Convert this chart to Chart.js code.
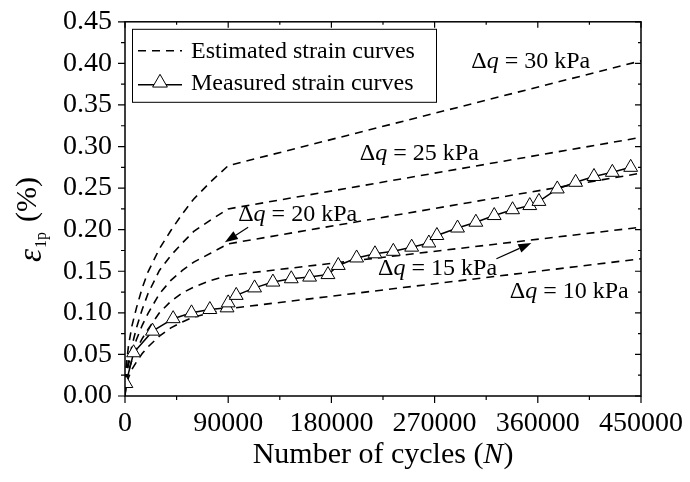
<!DOCTYPE html>
<html>
<head>
<meta charset="utf-8">
<script src="https://cdn.jsdelivr.net/npm/chart.js@4.4.1/dist/chart.umd.min.js"></script>
<style>
  html, body { margin: 0; padding: 0; background: #fff; }
  #wrap { width: 690px; height: 482px; }
</style>
</head>
<body>
<div id="wrap"><canvas id="chart" width="690" height="482"></canvas></div>
<script>
// --- data ---
// estimated curves all share the same cycle values
const estCycles = [0, 1000, 3000, 6000, 10000, 15000, 20000, 30000, 40000, 50000, 60000, 75000, 90000, 450000];
const est30 = [0, 0.035, 0.060, 0.084, 0.106, 0.130, 0.149, 0.177, 0.199, 0.219, 0.237, 0.258, 0.277, 0.403];
const est25 = [0, 0.025, 0.042, 0.060, 0.082, 0.104, 0.123, 0.151, 0.169, 0.184, 0.198, 0.212, 0.225, 0.311];
const est20 = [0, 0.022, 0.038, 0.052, 0.068, 0.085, 0.099, 0.123, 0.139, 0.151, 0.161, 0.172, 0.183, 0.268];
const est15 = [0, 0.018, 0.030, 0.043, 0.056, 0.069, 0.080, 0.100, 0.114, 0.124, 0.131, 0.139, 0.145, 0.203];
const est10 = [0, 0.013, 0.022, 0.032, 0.041, 0.051, 0.059, 0.072, 0.082, 0.089, 0.095, 0.100, 0.105, 0.165];

// measured strain (triangles)
const measCycles = [800, 7500, 24000, 42000, 58000, 74000, 89000, 90000, 97000, 113000, 129000, 145000,
  161000, 177000, 186000, 202000, 218000, 234000, 250000, 265000, 272000, 290000, 306000, 322000,
  338000, 353000, 361000, 377000, 393000, 409000, 425000, 441000];
const measStrain = [0.015, 0.052, 0.078, 0.093, 0.100, 0.104, 0.106, 0.112, 0.121, 0.130, 0.137, 0.141,
  0.143, 0.146, 0.157, 0.166, 0.171, 0.174, 0.179, 0.184, 0.193, 0.202, 0.209, 0.217,
  0.224, 0.229, 0.234, 0.249, 0.257, 0.264, 0.269, 0.275];

const xTicks = [0, 90000, 180000, 270000, 360000, 450000];
const yTicks = [0, 0.05, 0.10, 0.15, 0.20, 0.25, 0.30, 0.35, 0.40, 0.45];

const legendLabels = ["Estimated strain curves", "Measured strain curves"];
const curveLabels = ["30 kPa", "25 kPa", "20 kPa", "15 kPa", "10 kPa"];

// label anchors (data coords, left/baseline of text) and arrows (tail -> tip)
const labelPos = [[302000, 0.395], [204800, 0.284], [98700, 0.210], [220700, 0.146], [335500, 0.118]];
const arrows = [[[107400, 0.203], [87100, 0.185]], [[323900, 0.165], [354400, 0.184]]];

const SERIF = '"Liberation Serif", "Times New Roman", serif';

function estSet(vals) {
  return {
    data: estCycles.map((n, i) => ({ x: n, y: vals[i] })),
    borderColor: "#000",
    borderWidth: 1.6,
    borderDash: [8, 6],
    pointRadius: 0,
    fill: false,
    tension: 0
  };
}

function drawDq(ctx, px, py, rest) {
  ctx.textAlign = "left";
  ctx.textBaseline = "alphabetic";
  ctx.font = "24px " + SERIF;
  ctx.fillText("\u0394", px, py);
  let w = ctx.measureText("\u0394").width;
  ctx.font = "italic 24px " + SERIF;
  ctx.fillText("q", px + w, py);
  w += ctx.measureText("q").width;
  ctx.font = "24px " + SERIF;
  ctx.fillText(" = " + rest, px + w, py);
}

function drawArrow(ctx, x1, y1, x2, y2) {
  const ang = Math.atan2(y2 - y1, x2 - x1);
  const len = 13, half = 4.5;
  const bx = x2 - Math.cos(ang) * len, by = y2 - Math.sin(ang) * len;
  ctx.beginPath();
  ctx.moveTo(x1, y1);
  ctx.lineTo(bx, by);
  ctx.lineWidth = 1.2;
  ctx.stroke();
  ctx.beginPath();
  ctx.moveTo(x2, y2);
  ctx.lineTo(bx + Math.sin(ang) * half, by - Math.cos(ang) * half);
  ctx.lineTo(bx - Math.sin(ang) * half, by + Math.cos(ang) * half);
  ctx.closePath();
  ctx.fill();
}

const decor = {
  id: "decor",
  afterDatasetsDraw(chart) {
    const { ctx, chartArea: a, scales: { x, y } } = chart;
    ctx.save();
    ctx.strokeStyle = "#000";
    ctx.fillStyle = "#000";
    ctx.setLineDash([]);

    // frame
    ctx.lineWidth = 1.5;
    ctx.strokeRect(a.left, a.top, a.right - a.left, a.bottom - a.top);

    // ticks: bottom/left outward, top/right inward
    ctx.lineWidth = 1.2;
    ctx.beginPath();
    const xs = [];
    xTicks.forEach((v, i) => {
      xs.push([v, 7]);
      if (i < xTicks.length - 1) xs.push([(v + xTicks[i + 1]) / 2, 4]);
    });
    xs.forEach(([v, l]) => {
      const p = x.getPixelForValue(v);
      ctx.moveTo(p, a.bottom); ctx.lineTo(p, a.bottom + l);
      ctx.moveTo(p, a.top); ctx.lineTo(p, a.top + l - 1);
    });
    const ys = [];
    yTicks.forEach((v, i) => {
      ys.push([v, 7]);
      if (i < yTicks.length - 1) ys.push([(v + yTicks[i + 1]) / 2, 4]);
    });
    ys.forEach(([v, l]) => {
      const p = y.getPixelForValue(v);
      ctx.moveTo(a.left, p); ctx.lineTo(a.left - l, p);
      ctx.moveTo(a.right, p); ctx.lineTo(a.right - l + 1, p);
    });
    ctx.stroke();

    // curve labels + arrows
    labelPos.forEach(([n, e], i) => {
      drawDq(ctx, x.getPixelForValue(n), y.getPixelForValue(e), curveLabels[i]);
    });
    arrows.forEach(([t, h]) => {
      drawArrow(ctx, x.getPixelForValue(t[0]), y.getPixelForValue(t[1]),
                x.getPixelForValue(h[0]), y.getPixelForValue(h[1]));
    });

    // legend box
    const lx = a.left + 7, ly = a.top + 7;
    ctx.fillStyle = "#fff";
    ctx.fillRect(lx, ly, 305, 73);
    ctx.fillStyle = "#000";
    ctx.lineWidth = 1;
    ctx.strokeRect(lx + 0.5, ly + 0.5, 304, 73);
    ctx.lineWidth = 1.6;
    ctx.setLineDash([8, 6]);
    ctx.beginPath();
    ctx.moveTo(lx + 6, ly + 22); ctx.lineTo(lx + 50, ly + 22);
    ctx.stroke();
    ctx.setLineDash([]);
    ctx.lineWidth = 1.5;
    ctx.beginPath();
    ctx.moveTo(lx + 6, ly + 56); ctx.lineTo(lx + 50, ly + 56);
    ctx.stroke();
    ctx.lineWidth = 1;
    ctx.fillStyle = "#fff";
    Chart.helpers.drawPoint(ctx, { pointStyle: "triangle", radius: 8.5, rotation: 0, borderWidth: 1 }, lx + 28, ly + 54);
    ctx.fillStyle = "#000";
    ctx.font = "24px " + SERIF;
    ctx.textAlign = "left";
    ctx.textBaseline = "alphabetic";
    ctx.fillText(legendLabels[0], lx + 59, ly + 29.5);
    ctx.fillText(legendLabels[1], lx + 59, ly + 61.5);

    // x title with italic N
    ctx.font = "30px " + SERIF;
    const t1 = "Number of cycles (", t3 = ")";
    const w1 = ctx.measureText(t1).width, w3 = ctx.measureText(t3).width;
    ctx.font = "italic 30px " + SERIF;
    const w2 = ctx.measureText("N").width;
    let sx = (a.left + a.right) / 2 - (w1 + w2 + w3) / 2;
    ctx.font = "30px " + SERIF;
    ctx.fillText(t1, sx, 463);
    ctx.font = "italic 30px " + SERIF;
    ctx.fillText("N", sx + w1, 463);
    ctx.font = "30px " + SERIF;
    ctx.fillText(t3, sx + w1 + w2, 463);

    // y title: epsilon with subscript 1p, then (%)
    ctx.translate(36, 262);
    ctx.rotate(-Math.PI / 2);
    ctx.font = "italic 33px " + SERIF;
    ctx.fillText("\u03b5", 0, 5);
    const we = ctx.measureText("\u03b5").width;
    ctx.font = "16px " + SERIF;
    ctx.fillText("1p", we + 1, 10);
    ctx.font = "30px " + SERIF;
    ctx.fillText("(%)", 40, 0);

    ctx.restore();
  }
};

const ctx = document.getElementById("chart").getContext("2d");
new Chart(ctx, {
  type: "line",
  data: {
    datasets: [
      {
        data: measCycles.map((n, i) => ({ x: n, y: measStrain[i] })),
        borderColor: "#000",
        borderWidth: 1.5,
        pointStyle: "triangle",
        pointRadius: 8,
        pointBackgroundColor: "#fff",
        pointBorderColor: "#000",
        pointBorderWidth: 1,
        tension: 0
      },
      estSet(est30), estSet(est25), estSet(est20), estSet(est15), estSet(est10)
    ]
  },
  options: {
    responsive: false,
    animation: false,
    devicePixelRatio: 1,
    layout: { padding: { top: 17, right: 49, left: 0, bottom: 0 } },
    plugins: { legend: { display: false }, tooltip: { enabled: false } },
    scales: {
      x: {
        type: "linear",
        min: 0, max: 450000,
        afterBuildTicks: s => { s.ticks = xTicks.map(v => ({ value: v })); },
        afterFit: s => { s.height = 86; },
        grid: { display: false },
        border: { display: false },
        ticks: {
          color: "#000", padding: 3, maxRotation: 0, autoSkip: false,
          font: { family: SERIF, size: 28 },
          callback: v => String(v)
        }
      },
      y: {
        min: 0, max: 0.45,
        afterBuildTicks: s => { s.ticks = yTicks.map(v => ({ value: v })); },
        afterFit: s => { s.width = 125; },
        grid: { display: false },
        border: { display: false },
        ticks: {
          color: "#000", padding: 5, autoSkip: false,
          font: { family: SERIF, size: 28 },
          callback: v => Number(v).toFixed(2)
        }
      }
    }
  },
  plugins: [decor]
});
</script>
</body>
</html>
